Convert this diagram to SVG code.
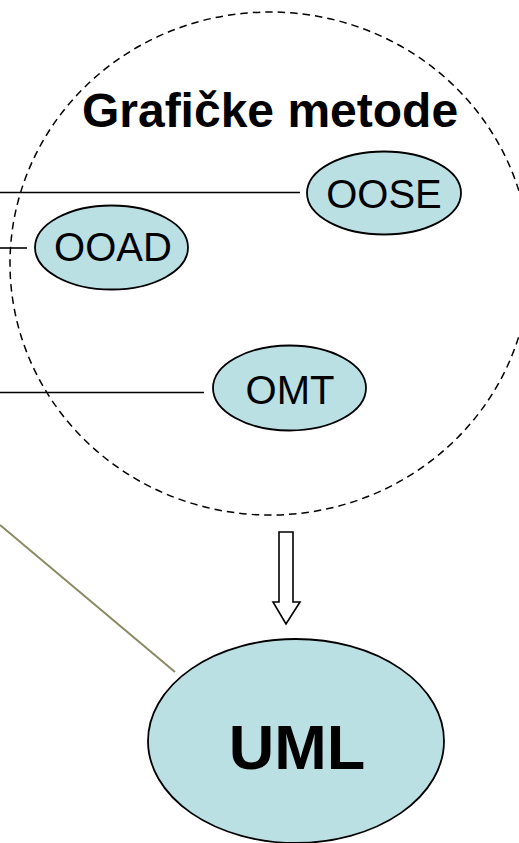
<svg xmlns="http://www.w3.org/2000/svg" width="519" height="843" viewBox="0 0 519 843">
  <style>
    .node { fill: #BBE0E3; stroke: #000; stroke-width: 1.8; }
    .lbl { font-family: "Liberation Sans", Arial, sans-serif; font-size: 40px; fill: #000; text-anchor: middle; }
    .bold { font-weight: bold; }
    .link { stroke: #000; stroke-width: 1.6; fill: none; }
    .group { fill: none; stroke: #000; stroke-width: 1.5; stroke-dasharray: 7.5 5; }
  </style>

  <!-- group boundary: graphical methods -->
  <g id="graficke-metode">
    <ellipse class="group" cx="270" cy="263.5" rx="260" ry="251.5"/>
    <text class="lbl bold" x="270" y="127" style="font-size:48px">Grafičke metode</text>
  </g>

  <!-- connectors -->
  <g id="connectors">
    <line class="link" x1="0" y1="192.5" x2="300" y2="192.5"/>
    <line class="link" x1="0" y1="248" x2="27" y2="248"/>
    <line class="link" x1="0" y1="392.5" x2="204" y2="392.5"/>
    <line x1="0" y1="525" x2="175" y2="672" stroke="#8a8a62" stroke-width="2"/>
    <!-- hollow block arrow down to UML -->
    <path d="M279,532 H293 V602 H300 L286,624 L273,602 H279 Z" fill="#fff" stroke="#000" stroke-width="1.6" stroke-linejoin="miter"/>
  </g>

  <g id="oose">
    <ellipse class="node" cx="384" cy="193" rx="77" ry="41.5"/>
    <text class="lbl" x="384" y="208">OOSE</text>
  </g>

  <g id="ooad">
    <ellipse class="node" cx="111.5" cy="247.5" rx="76.5" ry="42"/>
    <text class="lbl" x="113" y="261">OOAD</text>
  </g>

  <g id="omt">
    <ellipse class="node" cx="289.5" cy="388" rx="76.5" ry="42.5"/>
    <text class="lbl" x="290" y="404">OMT</text>
  </g>

  <g id="uml">
    <ellipse class="node" cx="296" cy="741" rx="148" ry="102"/>
    <text class="lbl bold" x="297" y="769" style="font-size:63px">UML</text>
  </g>
</svg>
